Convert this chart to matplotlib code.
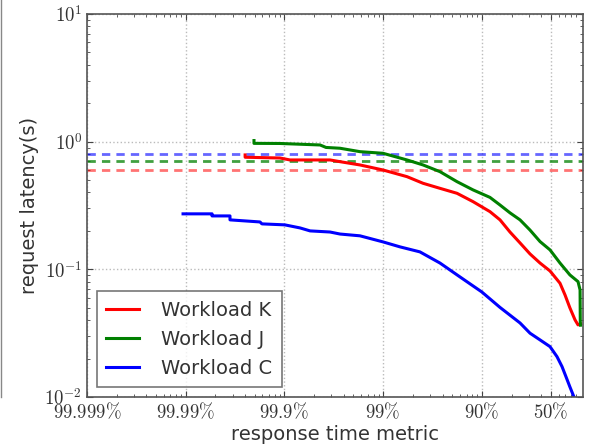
import matplotlib
matplotlib.use('Agg')
import matplotlib.pyplot as plt
from matplotlib.lines import Line2D

# x values are the tail fraction (1 - percentile), latency in seconds
k_tail = [4.0e-4, 4.0e-4, 9.0e-4, 1.14e-3, 2.9e-3, 3.66e-3, 5.83e-3, 9.98e-3, 0.01746, 0.0254,
          0.0377, 0.0561, 0.0815, 0.121, 0.153, 0.193, 0.244, 0.308, 0.389, 0.491,
          0.62, 0.697, 0.781, 0.88, 0.944, 1.0]
k_lat = [0.787, 0.755, 0.745, 0.719, 0.719, 0.697, 0.657, 0.600, 0.532, 0.472,
         0.431, 0.394, 0.339, 0.283, 0.244, 0.196, 0.161, 0.132, 0.112, 0.0971,
         0.0778, 0.063, 0.0499, 0.0402, 0.0367, 0.0374]

j_tail = [4.92e-4, 4.92e-4, 9.0e-4, 2.3e-3, 2.64e-3, 3.66e-3, 5.83e-3, 9.98e-3, 0.01746, 0.0254,
          0.0377, 0.0561, 0.0815, 0.121, 0.153, 0.193, 0.244, 0.308, 0.389, 0.491,
          0.62, 0.781, 0.944, 0.99, 0.995, 1.0]
j_lat = [1.02, 0.97, 0.968, 0.942, 0.901, 0.888, 0.835, 0.811, 0.719, 0.657,
         0.582, 0.486, 0.419, 0.366, 0.319, 0.277, 0.244, 0.203, 0.165, 0.142,
         0.112, 0.0904, 0.0801, 0.069, 0.0387, 0.0365]

c_tail = [9.4e-5, 1.85e-4, 1.85e-4, 2.81e-4, 2.81e-4, 5.66e-4, 5.92e-4, 1.01e-3, 1.44e-3, 1.82e-3,
          2.9e-3, 3.66e-3, 5.83e-3, 9.98e-3, 0.0148, 0.0236, 0.0377, 0.0601, 0.1, 0.153,
          0.244, 0.308, 0.389, 0.491, 0.578, 0.65, 0.713, 0.781, 0.859, 0.92]
c_lat = [0.272, 0.272, 0.262, 0.262, 0.244, 0.235, 0.227, 0.223, 0.211, 0.2,
         0.196, 0.189, 0.183, 0.164, 0.150, 0.137, 0.112, 0.0872, 0.0665, 0.0503,
         0.038, 0.0316, 0.028, 0.0248, 0.0207, 0.0173, 0.0144, 0.012, 0.01, 0.008]

# SLO thresholds
slo_k = 0.6
slo_j = 0.7
slo_c = 0.8

xticks = [1e-5, 1e-4, 1e-3, 1e-2, 1e-1, 0.5]
xlabels = [r'$99.999\%$', r'$99.99\%$', r'$99.9\%$', r'$99\%$', r'$90\%$', r'$50\%$']
yticks = [1e-2, 1e-1, 1e0, 1e1]
ylabels = [r'$10^{-2}$', r'$10^{-1}$', r'$10^{0}$', r'$10^{1}$']


def plot():
    plt.rcParams['mathtext.fontset'] = 'cm'
    plt.rcParams['xtick.direction'] = 'in'
    plt.rcParams['ytick.direction'] = 'in'
    fig = plt.figure(figsize=(5.89, 4.46), dpi=100)
    ax = fig.add_axes([0.1477, 0.1099, 0.8421, 0.8587])

    ax.axhline(slo_c, color='b', ls='--', lw=2, alpha=0.6, dashes=(3, 2.2))
    ax.axhline(slo_j, color='g', ls='--', lw=2, alpha=0.75, dashes=(3, 2.2))
    ax.axhline(slo_k, color='r', ls='--', lw=2, alpha=0.55, dashes=(3, 2.2))

    ax.plot(k_tail, k_lat, color='r', lw=2.2, label='Workload K')
    ax.plot(j_tail, j_lat, color='g', lw=2.2, label='Workload J')
    ax.plot(c_tail, c_lat, color='b', lw=2.2, label='Workload C')

    ax.set_xscale('log')
    ax.set_yscale('log')
    ax.set_xlim(1e-5, 1.06)
    ax.set_ylim(1e-2, 1e1)
    ax.set_xticks(xticks)
    ax.set_xticklabels(xlabels, fontsize=13.5, color='#333333')
    ax.set_yticks(yticks)
    ax.set_yticklabels(ylabels, fontsize=13.5, color='#333333')
    ax.tick_params(which='both', top=True, right=True, colors='#444444')
    ax.tick_params(axis='x', which='both', labelcolor='#333333')
    ax.tick_params(axis='y', which='both', labelcolor='#333333')
    ax.tick_params(which='major', length=4)
    ax.tick_params(which='minor', length=2)
    ax.grid(True, which='major', ls=':', color='#bbbbbb', lw=1)
    for s in ax.spines.values():
        s.set_color('#555555')
        s.set_linewidth(1.2)

    ax.set_xlabel('response time metric', fontsize=14, color='#333333', labelpad=2)
    ax.set_ylabel('request latency(s)', fontsize=14, color='#333333', labelpad=4)

    leg = ax.legend(loc='lower left', fontsize=14, handlelength=1.7, handletextpad=1.1,
                    labelspacing=0.5, borderpad=0.5, fancybox=False)
    leg.get_frame().set_edgecolor('#555555')
    leg.get_frame().set_linewidth(1.2)
    for t in leg.get_texts():
        t.set_color('#333333')

    # edge of the neighbouring figure left in the crop
    fig.add_artist(Line2D([0.002, 0.002], [0.11, 1.0], color='#888888', lw=1,
                          transform=fig.transFigure))

    fig.savefig('out.png', dpi=100)


if __name__ == '__main__':
    plot()
